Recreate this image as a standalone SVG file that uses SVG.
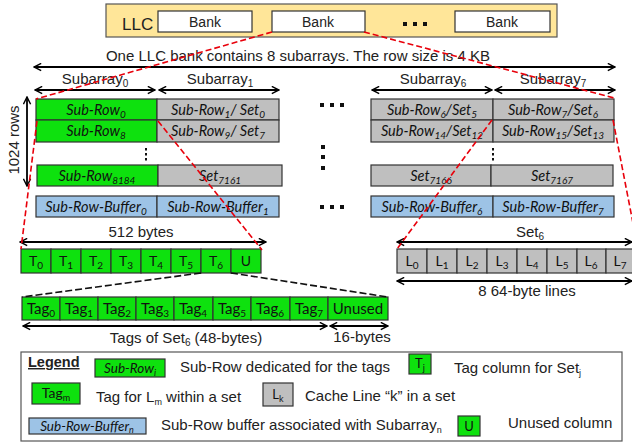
<svg xmlns="http://www.w3.org/2000/svg" width="632" height="445" viewBox="0 0 632 445">
<defs>
<marker id="ah" viewBox="0 0 10 10" refX="9" refY="5" markerWidth="9" markerHeight="9" orient="auto-start-reverse" markerUnits="userSpaceOnUse">
<path d="M1,1 L9,5 L1,9" fill="none" stroke="#000" stroke-width="1.6"/>
</marker>
<style>
.a{font-family:"Liberation Sans",Arial,sans-serif;fill:#222;}
.c{font-family:Lato,"Open Sans",sans-serif;fill:#111;}
.i{font-style:italic;}
.g{fill:#0ee10e;stroke:#333;stroke-width:1.2;}
.y{fill:#bfbfbf;stroke:#333;stroke-width:1.2;}
.b{fill:#9dc3e6;stroke:#333;stroke-width:1.2;}
.w{fill:#fff;stroke:#333;stroke-width:1.2;}
.arr{stroke:#000;stroke-width:1.8;fill:none;marker-start:url(#ah);marker-end:url(#ah);}
.rd{stroke:#e8000b;stroke-width:1.6;stroke-dasharray:6,3;fill:none;}
.kd{stroke:#111;stroke-width:1.6;stroke-dasharray:7,3;fill:none;}
.dot{fill:#111;}
</style>
</defs>

<g id="llc">
<rect x="106" y="4" width="451" height="33" fill="#ffe699" stroke="#555" stroke-width="1.2"/>
<text class="a" x="122" y="30" font-size="17">LLC</text>
<rect class="w" x="158" y="11" width="94" height="21"/>
<text class="a" x="205" y="27" font-size="14" text-anchor="middle">Bank</text>
<rect class="w" x="272" y="11" width="93" height="21"/>
<text class="a" x="318" y="27" font-size="14" text-anchor="middle">Bank</text>
<rect class="dot" x="403" y="22" width="4" height="4"/><rect class="dot" x="413" y="22" width="4" height="4"/><rect class="dot" x="423" y="22" width="4" height="4"/>
<rect class="w" x="455" y="11" width="95" height="21"/>
<text class="a" x="502" y="27" font-size="14" text-anchor="middle">Bank</text>
</g>

<g id="labels">
<text class="a" x="298" y="61" font-size="15" text-anchor="middle">One LLC bank contains 8 subarrays. The row size is 4 KB</text>
<text class="a" x="95" y="84" font-size="15" text-anchor="middle">Subarray<tspan font-size="10" dy="3">0</tspan></text>
<text class="a" x="220" y="84" font-size="15" text-anchor="middle">Subarray<tspan font-size="10" dy="3">1</tspan></text>
<text class="a" x="433" y="84" font-size="15" text-anchor="middle">Subarray<tspan font-size="10" dy="3">6</tspan></text>
<text class="a" x="553" y="84" font-size="15" text-anchor="middle">Subarray<tspan font-size="10" dy="3">7</tspan></text>
<text class="a" x="0" y="0" font-size="15" text-anchor="middle" transform="translate(19,140) rotate(-90)">1024 rows</text>
<text class="a" x="141" y="237" font-size="15" text-anchor="middle">512 bytes</text>
<text class="a" x="530" y="237" font-size="15" text-anchor="middle">Set<tspan font-size="10" dy="3">6</tspan></text>
<text class="a" x="527" y="296" font-size="15" text-anchor="middle">8 64-byte lines</text>
<text class="a" x="186" y="343" font-size="15" text-anchor="middle">Tags of Set<tspan font-size="10" dy="3">6</tspan><tspan dy="-3"> (48-bytes)</tspan></text>
<text class="a" x="362" y="342" font-size="15" text-anchor="middle">16-bytes</text>
</g>

<g id="subarray-left">
<rect class="g" x="36" y="99" width="121" height="21"/>
<text class="c i" x="96" y="115" font-size="14.5" text-anchor="middle">Sub-Row<tspan font-size="10" dy="3">0</tspan></text>
<rect class="y" x="157" y="99" width="122" height="21"/>
<text class="c i" x="218" y="115" font-size="14.5" text-anchor="middle">Sub-Row<tspan font-size="10" dy="3">1</tspan><tspan dy="-3">/ Set</tspan><tspan font-size="10" dy="3">0</tspan></text>
<rect class="g" x="36" y="120" width="121" height="22"/>
<text class="c i" x="96" y="136" font-size="14.5" text-anchor="middle">Sub-Row<tspan font-size="10" dy="3">8</tspan></text>
<rect class="y" x="157" y="120" width="122" height="22"/>
<text class="c i" x="218" y="136" font-size="14.5" text-anchor="middle">Sub-Row<tspan font-size="10" dy="3">9</tspan><tspan dy="-3">/ Set</tspan><tspan font-size="10" dy="3">7</tspan></text>
<rect class="dot" x="145" y="148" width="2" height="2.5"/><rect class="dot" x="145" y="153" width="2" height="2.5"/><rect class="dot" x="145" y="158" width="2" height="2.5"/>
<rect class="g" x="37" y="165" width="121" height="21"/>
<text class="c i" x="97" y="181" font-size="14.5" text-anchor="middle">Sub-Row<tspan font-size="10" dy="3">8184</tspan></text>
<rect class="y" x="158" y="165" width="124" height="21"/>
<text class="c i" x="220" y="181" font-size="14.5" text-anchor="middle">Set<tspan font-size="10" dy="3">7161</tspan></text>
<rect class="b" x="36" y="196" width="121" height="21"/>
<text class="c i" x="96" y="212" font-size="14.5" text-anchor="middle">Sub-Row-Buffer<tspan font-size="10" dy="3">0</tspan></text>
<rect class="b" x="157" y="196" width="122" height="21"/>
<text class="c i" x="218" y="212" font-size="14.5" text-anchor="middle">Sub-Row-Buffer<tspan font-size="10" dy="3">1</tspan></text>
</g>

<g id="middle-dots">
<rect class="dot" x="320" y="103" width="4" height="4"/><rect class="dot" x="330" y="103" width="4" height="4"/><rect class="dot" x="340" y="103" width="4" height="4"/>
<rect class="dot" x="321" y="145" width="4" height="4"/><rect class="dot" x="321" y="155" width="4" height="4"/><rect class="dot" x="321" y="166" width="4" height="4"/>
<rect class="dot" x="320" y="205" width="4" height="4"/><rect class="dot" x="330" y="205" width="4" height="4"/><rect class="dot" x="340" y="205" width="4" height="4"/>
</g>

<g id="subarray-right">
<rect class="y" x="371" y="99" width="122" height="21"/>
<text class="c i" x="432" y="115" font-size="14.5" text-anchor="middle">Sub-Row<tspan font-size="10" dy="3">6</tspan><tspan dy="-3">/Set</tspan><tspan font-size="10" dy="3">5</tspan></text>
<rect class="y" x="493" y="99" width="121" height="21"/>
<text class="c i" x="553" y="115" font-size="14.5" text-anchor="middle">Sub-Row<tspan font-size="10" dy="3">7</tspan><tspan dy="-3">/Set</tspan><tspan font-size="10" dy="3">6</tspan></text>
<rect class="y" x="371" y="120" width="122" height="22"/>
<text class="c i" x="432" y="136" font-size="14.5" text-anchor="middle">Sub-Row<tspan font-size="10" dy="3">14</tspan><tspan dy="-3">/Set</tspan><tspan font-size="10" dy="3">12</tspan></text>
<rect class="y" x="493" y="120" width="121" height="22"/>
<text class="c i" x="553" y="136" font-size="14.5" text-anchor="middle">Sub-Row<tspan font-size="10" dy="3">15</tspan><tspan dy="-3">/Set</tspan><tspan font-size="10" dy="3">13</tspan></text>
<rect class="dot" x="492" y="148" width="2" height="2.5"/><rect class="dot" x="492" y="153" width="2" height="2.5"/><rect class="dot" x="492" y="158" width="2" height="2.5"/>
<rect class="y" x="371" y="165" width="120" height="21"/>
<text class="c i" x="431" y="181" font-size="14.5" text-anchor="middle">Set<tspan font-size="10" dy="3">7166</tspan></text>
<rect class="y" x="491" y="165" width="122" height="21"/>
<text class="c i" x="552" y="181" font-size="14.5" text-anchor="middle">Set<tspan font-size="10" dy="3">7167</tspan></text>
<rect class="b" x="371" y="196" width="122" height="21"/>
<text class="c i" x="432" y="212" font-size="14.5" text-anchor="middle">Sub-Row-Buffer<tspan font-size="10" dy="3">6</tspan></text>
<rect class="b" x="493" y="196" width="121" height="21"/>
<text class="c i" x="553" y="212" font-size="14.5" text-anchor="middle">Sub-Row-Buffer<tspan font-size="10" dy="3">7</tspan></text>
</g>

<g id="tag-columns">
<rect class="g" x="21" y="249" width="30" height="24"/><text class="c" x="36" y="266" font-size="14" text-anchor="middle">T<tspan font-size="10" dy="3">0</tspan></text>
<rect class="g" x="51" y="249" width="30" height="24"/><text class="c" x="66" y="266" font-size="14" text-anchor="middle">T<tspan font-size="10" dy="3">1</tspan></text>
<rect class="g" x="81" y="249" width="30" height="24"/><text class="c" x="96" y="266" font-size="14" text-anchor="middle">T<tspan font-size="10" dy="3">2</tspan></text>
<rect class="g" x="111" y="249" width="30" height="24"/><text class="c" x="126" y="266" font-size="14" text-anchor="middle">T<tspan font-size="10" dy="3">3</tspan></text>
<rect class="g" x="141" y="249" width="30" height="24"/><text class="c" x="156" y="266" font-size="14" text-anchor="middle">T<tspan font-size="10" dy="3">4</tspan></text>
<rect class="g" x="171" y="249" width="30" height="24"/><text class="c" x="186" y="266" font-size="14" text-anchor="middle">T<tspan font-size="10" dy="3">5</tspan></text>
<rect class="g" x="201" y="249" width="30" height="24"/><text class="c" x="216" y="266" font-size="14" text-anchor="middle">T<tspan font-size="10" dy="3">6</tspan></text>
<rect class="g" x="231" y="249" width="30" height="24"/><text class="c" x="246" y="266" font-size="14" text-anchor="middle">U</text>
</g>

<g id="tags-row">
<rect class="g" x="22" y="297" width="38" height="23"/><text class="c" x="41" y="314" font-size="15" text-anchor="middle">Tag<tspan font-size="10" dy="3">0</tspan></text>
<rect class="g" x="60" y="297" width="38" height="23"/><text class="c" x="79" y="314" font-size="15" text-anchor="middle">Tag<tspan font-size="10" dy="3">1</tspan></text>
<rect class="g" x="98" y="297" width="38" height="23"/><text class="c" x="117" y="314" font-size="15" text-anchor="middle">Tag<tspan font-size="10" dy="3">2</tspan></text>
<rect class="g" x="136" y="297" width="38" height="23"/><text class="c" x="155" y="314" font-size="15" text-anchor="middle">Tag<tspan font-size="10" dy="3">3</tspan></text>
<rect class="g" x="174" y="297" width="39" height="23"/><text class="c" x="193" y="314" font-size="15" text-anchor="middle">Tag<tspan font-size="10" dy="3">4</tspan></text>
<rect class="g" x="213" y="297" width="38" height="23"/><text class="c" x="232" y="314" font-size="15" text-anchor="middle">Tag<tspan font-size="10" dy="3">5</tspan></text>
<rect class="g" x="251" y="297" width="39" height="23"/><text class="c" x="270" y="314" font-size="15" text-anchor="middle">Tag<tspan font-size="10" dy="3">6</tspan></text>
<rect class="g" x="290" y="297" width="38" height="23"/><text class="c" x="309" y="314" font-size="15" text-anchor="middle">Tag<tspan font-size="10" dy="3">7</tspan></text>
<rect class="g" x="328" y="297" width="60" height="23"/><text class="c" x="358" y="314" font-size="15" text-anchor="middle">Unused</text>
</g>

<g id="set6-lines">
<rect class="y" x="397" y="249" width="30" height="24"/><text class="c" x="412" y="266" font-size="14" text-anchor="middle">L<tspan font-size="10" dy="3">0</tspan></text>
<rect class="y" x="427" y="249" width="30" height="24"/><text class="c" x="442" y="266" font-size="14" text-anchor="middle">L<tspan font-size="10" dy="3">1</tspan></text>
<rect class="y" x="457" y="249" width="30" height="24"/><text class="c" x="472" y="266" font-size="14" text-anchor="middle">L<tspan font-size="10" dy="3">2</tspan></text>
<rect class="y" x="487" y="249" width="30" height="24"/><text class="c" x="502" y="266" font-size="14" text-anchor="middle">L<tspan font-size="10" dy="3">3</tspan></text>
<rect class="y" x="517" y="249" width="30" height="24"/><text class="c" x="532" y="266" font-size="14" text-anchor="middle">L<tspan font-size="10" dy="3">4</tspan></text>
<rect class="y" x="547" y="249" width="30" height="24"/><text class="c" x="562" y="266" font-size="14" text-anchor="middle">L<tspan font-size="10" dy="3">5</tspan></text>
<rect class="y" x="577" y="249" width="29" height="24"/><text class="c" x="591" y="266" font-size="14" text-anchor="middle">L<tspan font-size="10" dy="3">6</tspan></text>
<rect class="y" x="606" y="249" width="30" height="24"/><text class="c" x="620" y="266" font-size="14" text-anchor="middle">L<tspan font-size="10" dy="3">7</tspan></text>
</g>

<g id="connectors">
<line class="arr" x1="34" y1="67" x2="615" y2="67"/>
<line class="arr" x1="35" y1="90" x2="155" y2="90"/>
<line class="arr" x1="159" y1="90" x2="279" y2="90"/>
<line class="arr" x1="372" y1="90" x2="492" y2="90"/>
<line class="arr" x1="495" y1="90" x2="615" y2="90"/>
<line class="arr" x1="27" y1="97" x2="27" y2="186"/>
<line class="arr" x1="20" y1="242" x2="266" y2="242"/>
<line class="arr" x1="397" y1="242" x2="632" y2="242"/>
<line class="arr" x1="397" y1="281" x2="632" y2="281"/>
<line class="arr" x1="23" y1="326" x2="327" y2="326"/>
<line class="arr" x1="330" y1="326" x2="388" y2="326"/>
<line class="kd" x1="201" y1="273" x2="22" y2="297"/>
<line class="kd" x1="231" y1="273" x2="388" y2="297"/>
<line class="rd" x1="272" y1="32" x2="36" y2="99"/>
<line class="rd" x1="364" y1="32" x2="614" y2="98"/>
<line class="rd" x1="37" y1="121" x2="21" y2="249"/>
<line class="rd" x1="158" y1="121" x2="262" y2="250"/>
<line class="rd" x1="492" y1="120" x2="397" y2="249"/>
<line class="rd" x1="613" y1="120" x2="638" y2="249"/>
</g>

<g id="legend">
<rect x="21" y="352" width="601" height="89" fill="#fff" stroke="#555" stroke-width="1.2"/>
<text class="a" x="28" y="367" font-size="14.5" font-weight="bold" text-decoration="underline">Legend</text>
<rect class="g" x="95" y="359" width="70" height="18"/>
<text class="c i" x="130" y="373" font-size="13.5" text-anchor="middle">Sub-Row<tspan font-size="9" dy="3">i</tspan></text>
<text class="a" x="180" y="372" font-size="15">Sub-Row dedicated for the tags</text>
<rect class="g" x="409" y="354" width="22" height="20"/>
<text class="c" x="420" y="368" font-size="13" text-anchor="middle">T<tspan font-size="9" dy="3">j</tspan></text>
<text class="a" x="454" y="373" font-size="15">Tag column for Set<tspan font-size="9" dy="3">j</tspan></text>
<rect class="g" x="32" y="383" width="48" height="21"/>
<text class="c" x="56" y="398" font-size="14" text-anchor="middle">Tag<tspan font-size="9" dy="3">m</tspan></text>
<text class="a" x="96" y="402" font-size="15">Tag for L<tspan font-size="9" dy="3">m</tspan><tspan dy="-3"> within a set</tspan></text>
<rect class="y" x="263" y="383" width="30" height="23"/>
<text class="c" x="278" y="399" font-size="13" text-anchor="middle">L<tspan font-size="9" dy="3">k</tspan></text>
<text class="a" x="305" y="401" font-size="15">Cache Line “k” in a set</text>
<rect class="b" x="29" y="418" width="117" height="16"/>
<text class="c i" x="87" y="431" font-size="13.5" text-anchor="middle">Sub-Row-Buffer<tspan font-size="9" dy="2">n</tspan></text>
<text class="a" x="161" y="430" font-size="15">Sub-Row buffer associated with Subarray<tspan font-size="9" dy="3">n</tspan></text>
<rect class="g" x="458" y="416" width="22" height="20"/>
<text class="c" x="469" y="431" font-size="13" text-anchor="middle">U</text>
<text class="a" x="508" y="428" font-size="15">Unused column</text>
</g>
</svg>
